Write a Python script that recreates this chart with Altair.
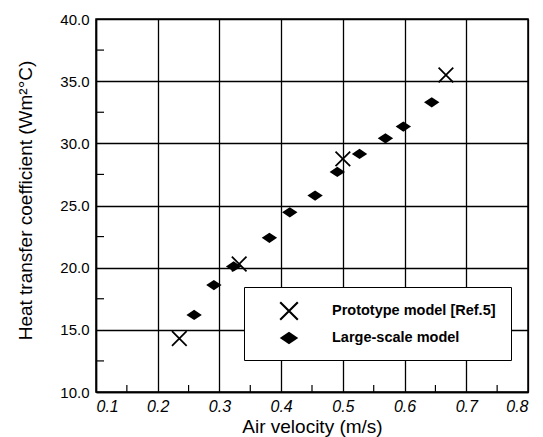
import altair as alt
import pandas as pd

# Data
proto_x = [0.235, 0.332, 0.500, 0.667]
proto_y = [14.3, 20.3, 28.75, 35.5]
large_x = [0.259, 0.291, 0.323, 0.381, 0.414, 0.455, 0.491, 0.527, 0.569, 0.598, 0.644]
large_y = [16.2, 18.6, 20.1, 22.4, 24.45, 25.8, 27.7, 29.15, 30.4, 31.35, 33.3]
series_names = ["Prototype model [Ref.5]", "Large-scale model"]

x_ticks = [0.1, 0.2, 0.3, 0.4, 0.5, 0.6, 0.7, 0.8]
y_ticks = [10, 15, 20, 25, 30, 35, 40]
x_minor = [0.15, 0.25, 0.35, 0.45, 0.55, 0.65, 0.75]
y_minor = [12.5, 17.5, 22.5, 27.5, 32.5, 37.5]

W, H = 432, 373
FONT = "Liberation Sans"

df = pd.DataFrame(
    {"x": proto_x, "y": proto_y, "series": [series_names[0]] * len(proto_x)}
)
df = pd.concat(
    [df, pd.DataFrame({"x": large_x, "y": large_y, "series": [series_names[1]] * len(large_x)})],
    ignore_index=True,
)

xscale = alt.Scale(domain=[0.1, 0.8], nice=False, zero=False)
yscale = alt.Scale(domain=[10, 40], nice=False, zero=False)

# filled "X" made of two thin bars, and a flat diamond
X_PATH = (
    "M-0.915,-1.085L1.085,0.915L0.915,1.085L-1.085,-0.915Z"
    "M-0.915,1.085L-1.085,0.915L0.915,-1.085L1.085,-0.915Z"
)
D_PATH = "M0,-0.7L1.05,0L0,0.7L-1.05,0Z"

points = alt.Chart(df).mark_point(
    filled=True, color="black", opacity=1, strokeWidth=0, size=215
).encode(
    x=alt.X(
        "x:Q",
        scale=xscale,
        axis=alt.Axis(
            values=x_ticks,
            format=".1f",
            title="Air velocity (m/s)",
            labelFontStyle="italic",
            labelFontSize=16,
        ),
    ),
    y=alt.Y(
        "y:Q",
        scale=yscale,
        axis=alt.Axis(
            values=y_ticks,
            format=".1f",
            title="Heat transfer coefficient (Wm²°C)",
            titleY=181,
        ),
    ),
    shape=alt.Shape(
        "series:N",
        scale=alt.Scale(domain=series_names, range=[X_PATH, D_PATH]),
        legend=alt.Legend(
            title=None,
            orient="none",
            legendX=148,
            legendY=268,
            fillColor="white",
            strokeColor="black",
            padding=15,
            symbolSize=310,
            symbolFillColor="black",
            symbolStrokeColor="black",
            symbolStrokeWidth=0,
            symbolOpacity=1,
            symbolOffset=21,
            labelOffset=34,
            rowPadding=8,
            labelFont=FONT,
            labelFontSize=14.5,
            labelFontWeight="bold",
            labelColor="black",
            labelLimit=400,
        ),
    ),
)

ymin_df = pd.DataFrame({"y": y_minor})
xmin_df = pd.DataFrame({"x": x_minor})

ytick_layer = alt.Chart(ymin_df).mark_rule(color="black", strokeWidth=1.2).encode(
    y=alt.Y("y:Q", scale=yscale), x=alt.value(0), x2=alt.value(8)
)
xtick_layer = alt.Chart(xmin_df).mark_rule(color="black", strokeWidth=1.2).encode(
    x=alt.X("x:Q", scale=xscale), y=alt.value(H), y2=alt.value(H - 7)
)

chart = (
    alt.layer(ytick_layer, xtick_layer, points)
    .properties(
        width=W,
        height=H,
        autosize=alt.AutoSizeParams(type="none"),
        padding={"left": 96, "top": 19, "right": 543 - 96 - W, "bottom": 437 - 19 - H},
        background="white",
    )
    .configure_view(stroke="black", strokeWidth=1.5)
    .configure_axis(
        grid=True,
        gridColor="black",
        gridOpacity=1,
        gridWidth=1.3,
        domainColor="black",
        domainWidth=1.5,
        ticks=False,
        labelFont=FONT,
        labelFontSize=15,
        labelColor="black",
        titleFont=FONT,
        titleFontSize=19,
        titleFontWeight="normal",
        titleColor="black",
    )
    .configure_axisX(labelPadding=6, titlePadding=3)
    .configure_axisY(labelPadding=7, titlePadding=24)
)

chart.save("out.html", embed_options={"renderer": "svg", "actions": False})
